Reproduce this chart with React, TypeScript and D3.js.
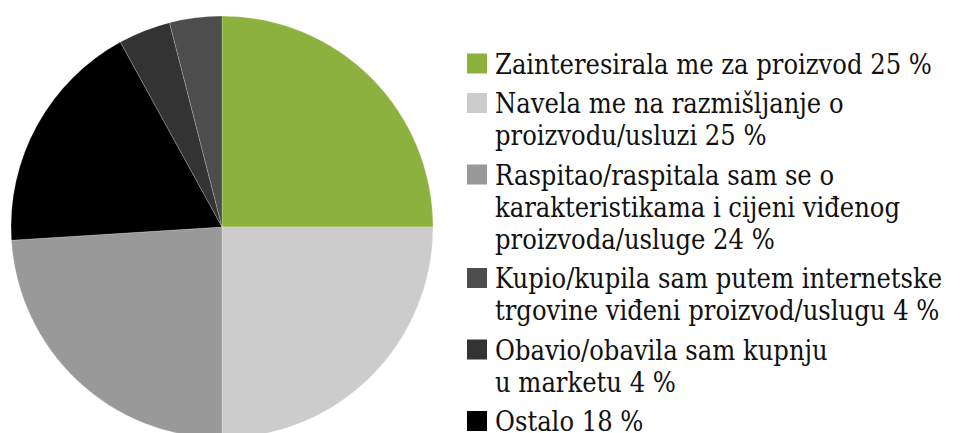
import { useEffect, useRef } from "react";
import * as d3 from "d3";

// legend order
const labels = [
  ["Zainteresirala me za proizvod 25 %"],
  ["Navela me na razmišljanje o", "proizvodu/usluzi 25 %"],
  ["Raspitao/raspitala sam se o", "karakteristikama i cijeni viđenog", "proizvoda/usluge 24 %"],
  ["Kupio/kupila sam putem internetske", "trgovine viđeni proizvod/uslugu 4 %"],
  ["Obavio/obavila sam kupnju", "u marketu 4 %"],
  ["Ostalo 18 %"],
];
const values = [25, 25, 24, 4, 4, 18];
const colors = ["#8db13e", "#cccccc", "#999999", "#4d4d4d", "#333333", "#000000"];
// order of slices clockwise from 12 o'clock
const pieOrder = [0, 1, 2, 5, 4, 3];

export default function App() {
  const svgRef = useRef<SVGSVGElement>(null);

  useEffect(() => {
    const svg = svgRef.current;
    if (svg === null) return;
    const root = d3.select(svg);
    root.selectAll("*").remove();

    const cx = 222, cy = 227, r = 211;

    const pie = d3.pie<number>().sort(null).value(i => values[i]);
    const arcs = pie(pieOrder);
    const arc = d3.arc<d3.PieArcDatum<number>>().innerRadius(0).outerRadius(r);

    root.append("g")
      .attr("transform", `translate(${cx},${cy})`)
      .selectAll("path")
      .data(arcs)
      .join("path")
      .attr("d", arc)
      .attr("fill", d => colors[d.data])
      .attr("stroke", "#ffffff")
      .attr("stroke-opacity", 0.35)
      .attr("stroke-width", 0.6);

    // legend
    const lineH = 32;
    const gap = 7.5;
    const legend = root.append("g").attr("transform", "translate(467,0)");
    let y = 73.5;
    labels.forEach((lines, i) => {
      const g = legend.append("g");
      g.append("rect")
        .attr("x", 0)
        .attr("y", y - 20)
        .attr("width", 20)
        .attr("height", 20)
        .attr("fill", colors[i]);
      const t = g.append("text")
        .style("font-family", '"DejaVu Serif Condensed", "DejaVu Serif", serif')
        .style("font-stretch", "condensed")
        .style("font-size", "27px")
        .attr("fill", "#111");
      lines.forEach((ln, j) => {
        t.append("tspan").attr("x", 28).attr("y", y + j * lineH).text(ln);
      });
      y += lines.length * lineH + gap;
    });
  }, []);

  return (
    <svg
      ref={svgRef}
      width={960}
      height={433}
      style={{ position: "absolute", left: 0, top: 0, background: "#fff" }}
    />
  );
}
